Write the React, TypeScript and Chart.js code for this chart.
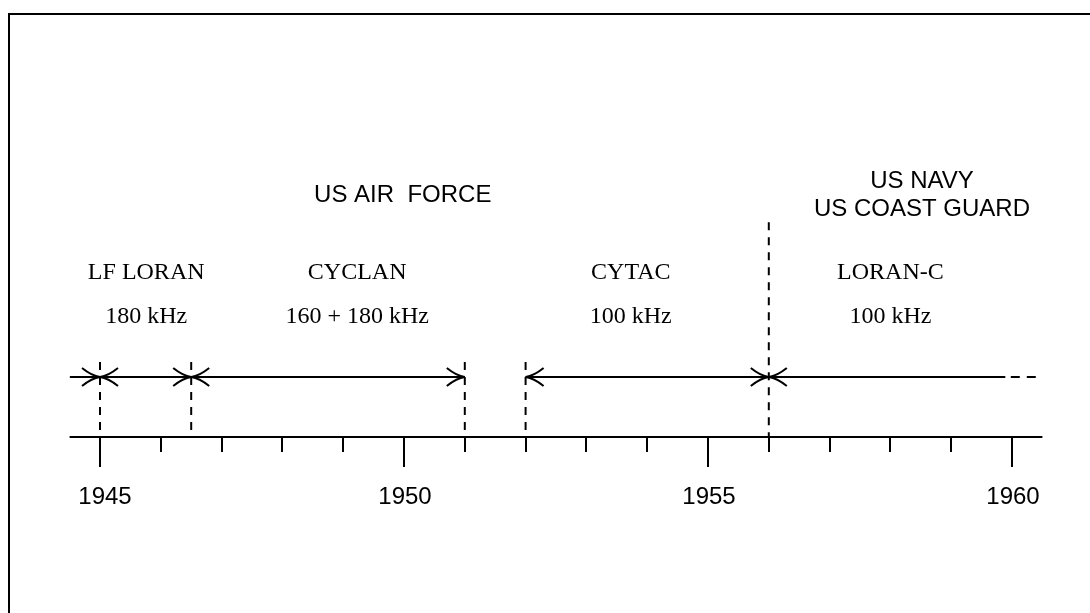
import React, { useEffect, useRef } from "react";
import { Chart, registerables } from "chart.js";

Chart.register(...registerables);

// ---- data ----
const tickYears = [1945, 1946, 1947, 1948, 1949, 1950, 1951, 1952, 1953, 1954, 1955, 1956, 1957, 1958, 1959, 1960];
const majorTickYears = [1945, 1950, 1955, 1960];
const tickLabels = ["1945", "1950", "1955", "1960"];

const boundaryYears = [1945, 1946.5, 1951, 1952, 1956];
const boundaryTops = [1.25, 1.25, 1.25, 1.25, 3.58];

const solidSegments = [
  [1944.5, 1951],
  [1952, 1959.89],
];
const dashedSegment = [1959.98, 1960.42];

const arrowYears = [1945, 1945, 1946.5, 1946.5, 1951, 1952, 1956, 1956];
const arrowDirs = [1, -1, 1, -1, 1, -1, 1, -1]; // 1: arrow from left pointing right, -1: from right pointing left

const systemNames = ["LF LORAN", "CYCLAN", "CYTAC", "LORAN-C"];
const systemFreqs = ["180 kHz", "160 + 180 kHz", "100 kHz", "100 kHz"];
const systemYears = [1945.76, 1949.23, 1953.73, 1958.0];

const operatorLines = [["US AIR  FORCE"], ["US NAVY", "US COAST GUARD"]];
const operatorYears = [1949.98, 1958.52];

const X_MIN = 1944.5;
const X_MAX = 1960.5;
const Y_MIN = -2.5;
const Y_MAX = 6.5;

const SERIF = "24px 'Liberation Serif', 'Times New Roman', serif";
const SANS = "24px 'Liberation Sans', Arial, sans-serif";

const overlayPlugin = {
  id: "timelineOverlay",
  afterDatasetsDraw(chart: any) {
    const ctx = chart.ctx as CanvasRenderingContext2D;
    const xs = chart.scales.x;
    const ys = chart.scales.y;
    const px = (v: number) => xs.getPixelForValue(v);
    const py = (v: number) => ys.getPixelForValue(v);
    ctx.save();
    ctx.strokeStyle = "#000";
    ctx.fillStyle = "#000";
    ctx.lineCap = "butt";

    // axis line
    const y0 = py(0);
    ctx.lineWidth = 2;
    ctx.setLineDash([]);
    ctx.beginPath();
    ctx.moveTo(px(X_MIN), y0);
    ctx.lineTo(px(X_MAX), y0);
    ctx.stroke();

    // ticks
    tickYears.forEach((yr) => {
      const major = majorTickYears.includes(yr);
      const x = Math.round(px(yr));
      ctx.beginPath();
      ctx.moveTo(x, y0);
      ctx.lineTo(x, y0 + (major ? 30 : 15));
      ctx.stroke();
    });

    // tick labels
    ctx.font = SANS;
    ctx.textAlign = "center";
    ctx.textBaseline = "alphabetic";
    majorTickYears.forEach((yr, i) => {
      ctx.fillText(tickLabels[i], px(yr) + (i === 0 ? 5 : 1), y0 + 67);
    });

    // arrowheads
    const yl = py(1);
    ctx.lineWidth = 2;
    arrowYears.forEach((yr, i) => {
      const x = px(yr);
      const d = arrowDirs[i];
      const bx = x - d * 18;
      ctx.beginPath();
      ctx.moveTo(bx, yl - 9);
      ctx.quadraticCurveTo(x - d * 8, yl - 1, x, yl);
      ctx.moveTo(bx, yl + 9);
      ctx.quadraticCurveTo(x - d * 8, yl + 1, x, yl);
      ctx.stroke();
    });

    // system labels
    ctx.font = SERIF;
    ctx.textAlign = "center";
    systemNames.forEach((name, i) => {
      ctx.fillText(name, px(systemYears[i]), py(2.633));
      ctx.fillText(systemFreqs[i], px(systemYears[i]), py(1.9));
    });

    // operators
    ctx.font = SANS;
    operatorLines.forEach((lines, i) => {
      const n = lines.length;
      lines.forEach((ln, j) => {
        const base = n === 1 ? 3.917 : 4.15 - j * 0.467;
        ctx.fillText(ln, px(operatorYears[i]), py(base));
      });
    });

    // frame
    ctx.lineWidth = 2;
    ctx.strokeRect(9, 14, 1200, 800);
    ctx.restore();
  },
};

export default function App() {
  const ref = useRef<HTMLCanvasElement | null>(null);
  useEffect(() => {
    if (!ref.current) return;
    const datasets: any[] = [];
    boundaryYears.forEach((yr, i) => {
      datasets.push({
        data: [
          { x: yr, y: boundaryTops[i] },
          { x: yr, y: 0 },
        ],
        borderColor: "#000",
        borderWidth: 2,
        borderDash: [8, 7],
        pointRadius: 0,
        showLine: true,
      });
    });
    solidSegments.forEach((seg) => {
      datasets.push({
        data: [
          { x: seg[0], y: 1 },
          { x: seg[1], y: 1 },
        ],
        borderColor: "#000",
        borderWidth: 2,
        pointRadius: 0,
        showLine: true,
      });
    });
    datasets.push({
      data: [
        { x: dashedSegment[0], y: 1 },
        { x: dashedSegment[1], y: 1 },
      ],
      borderColor: "#000",
      borderWidth: 2,
      borderDash: [9, 7],
      pointRadius: 0,
      showLine: true,
    });

    const chart = new Chart(ref.current, {
      type: "scatter",
      data: { datasets },
      options: {
        animation: false,
        responsive: true,
        maintainAspectRatio: false,
        layout: { padding: { left: 69.6, right: 47.6, top: 47, bottom: 26 } },
        scales: {
          x: { type: "linear", min: X_MIN, max: X_MAX, display: false },
          y: { type: "linear", min: Y_MIN, max: Y_MAX, display: false },
        },
        plugins: { legend: { display: false }, tooltip: { enabled: false } },
      },
      plugins: [overlayPlugin],
    });
    return () => chart.destroy();
  }, []);

  return (
    <div style={{ position: "fixed", left: 0, top: 0, width: 1090, height: 613, background: "#fff" }}>
      <canvas ref={ref} />
    </div>
  );
}
